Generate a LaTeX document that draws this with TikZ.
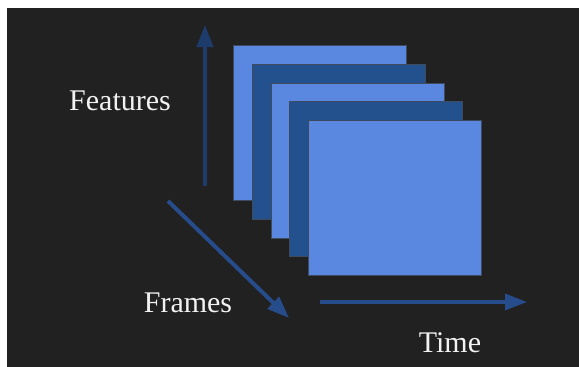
\documentclass[tikz,border=0pt]{standalone}
\usepackage{fontspec}
\setmainfont{Liberation Serif}
\usetikzlibrary{arrows.meta}

\definecolor{slidebg}{HTML}{212121}
\definecolor{framelight}{HTML}{5A87DF}
\definecolor{framedark}{HTML}{22518D}
\definecolor{frameedge}{HTML}{3E4A5E}
\definecolor{axisdark}{HTML}{1E3C6B}
\definecolor{axisblue}{HTML}{274C8B}
\definecolor{labelwhite}{HTML}{F2F2F2}

\begin{document}
\begin{tikzpicture}[
          x=1pt, y=-1pt,
          axislabel/.style={text=labelwhite, anchor=base, inner sep=0pt,
                            font=\fontsize{30}{36}\selectfont},
          framebox/.style={draw=frameedge, line width=.8pt, anchor=north west,
                           minimum width=173pt, minimum height=155pt, inner sep=0pt},
          axis/.style={line width=4pt, -{Triangle[length=22pt,width=16pt]}}]
            \useasboundingbox (0,0) rectangle (579,367);
            \fill[white] (0,0) rectangle (579,367);
            \fill[slidebg] (7,8) rectangle (579,367);

            % stacked frames
            \foreach \i/\c in {0/framelight, 1/framedark, 2/framelight, 3/framedark, 4/framelight}
              \node[framebox, fill=\c] (f\i) at (233+18.75*\i, 45+18.75*\i) {};

            % axes
            \coordinate (feat0) at (205,186);
            \coordinate (feat1) at (205,25);
            \coordinate (fram0) at (168,201);
            \coordinate (fram1) at (289,318);
            \coordinate (time0) at (320,302);
            \coordinate (time1) at (527,302);

            \draw[axis, axisdark] (feat0) -- (feat1);
            \draw[axis, axisblue] (fram0) -- (fram1);
            \draw[axis, axisblue, line width=3.5pt] (time0) -- (time1);

            \node[axislabel] (features) at (120,110) {Features};
            \node[axislabel] (frames) at (188,312) {Frames};
            \node[axislabel] (time) at (450,352) {Time};
          \end{tikzpicture}
\end{document}
